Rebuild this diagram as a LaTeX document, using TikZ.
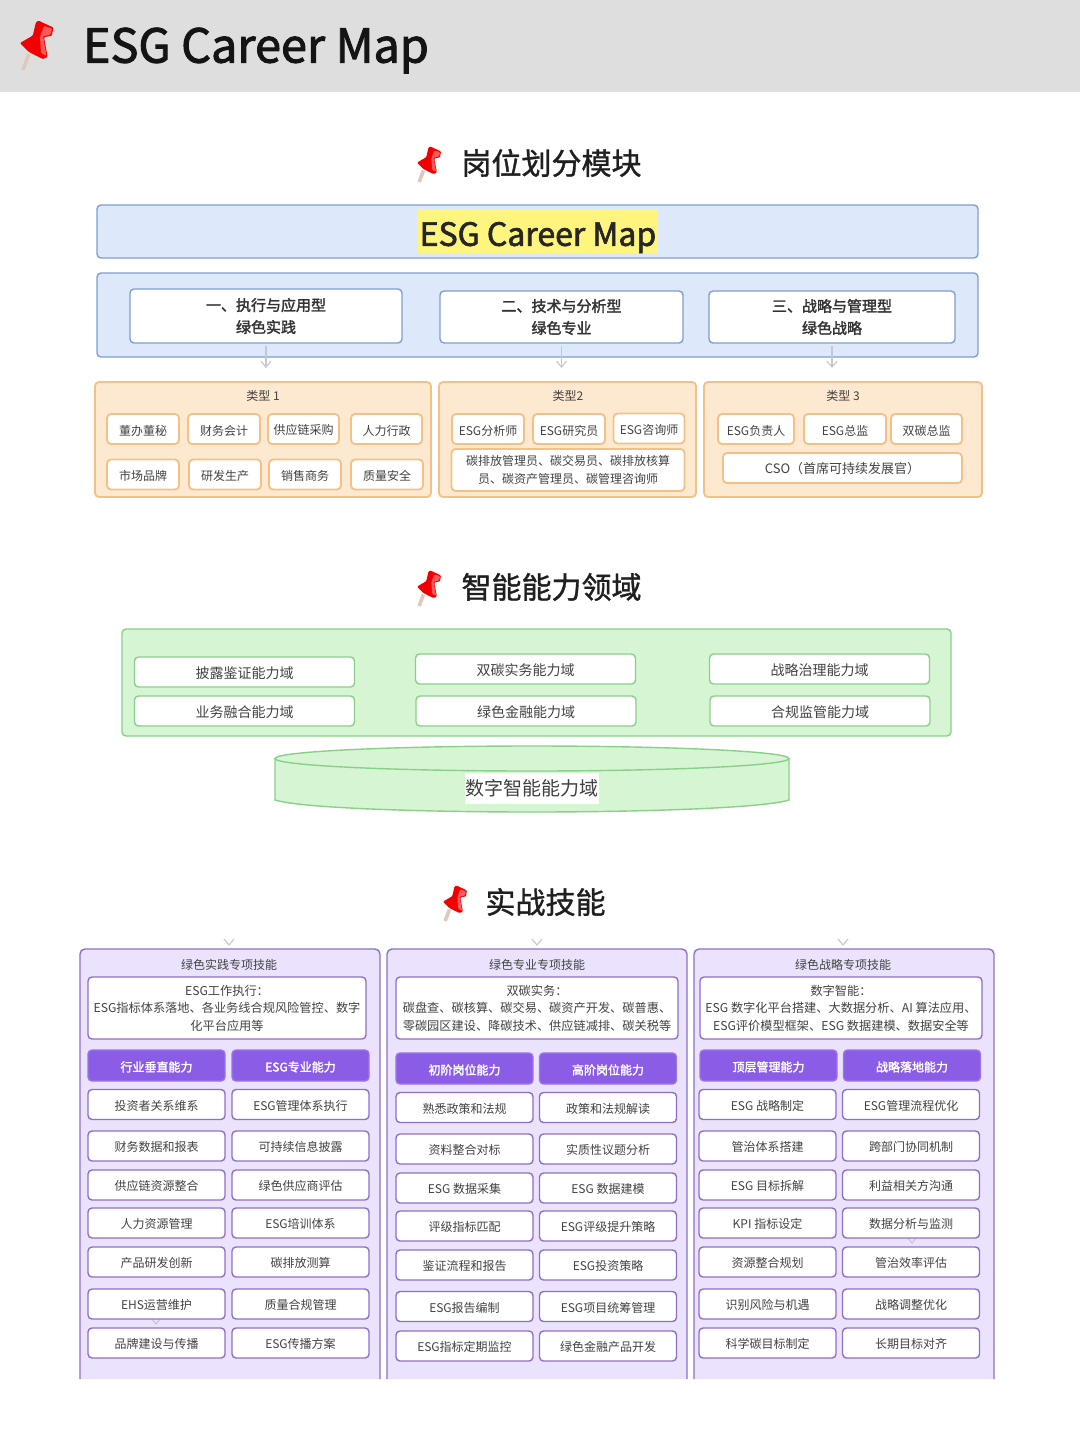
\documentclass[tikz,border=0pt]{standalone}
\usepackage{fontspec}
\setmainfont{Noto Sans CJK SC}
\newfontfamily\medfont[FakeBold=1.2]{Noto Sans CJK SC}
\newfontfamily\semifont[FakeBold=2]{Noto Sans CJK SC}
\usetikzlibrary{arrows.meta}

\definecolor{bandgray}{HTML}{DEDEDE}
\definecolor{inkgray}{HTML}{424242}
\definecolor{flowgray}{HTML}{C4C8CC}
\definecolor{blueline}{HTML}{7F9ED2}
\definecolor{bluefill}{HTML}{DEE8FB}
\definecolor{markyellow}{HTML}{FFF47E}
\definecolor{orangeline}{HTML}{F3C186}
\definecolor{orangefill}{HTML}{FDE8D0}
\definecolor{greenline}{HTML}{8AD08A}
\definecolor{greenfill}{HTML}{D6F5D2}
\definecolor{purpleline}{HTML}{8F6FC6}
\definecolor{purplefill}{HTML}{EBE3FD}
\definecolor{purplehead}{HTML}{8B5CE6}

\tikzset{
  px/.style = {inner sep = 0pt, outer sep = 0pt, align = center},
  dropped/.style = {execute at begin node = {\rule{0pt}{#1}}},
  box/.style = {px, draw, rounded corners = 4pt, line width = 1.4pt},
  heading/.style = {px, text = black!88, font = \medfont\fontsize{30}{30}\selectfont},
  tag/.style = {px, text = inkgray, font = \fontsize{12}{17.5}\selectfont},
  kind/.style = {box, draw = blueline, fill = white, text = black!80, dropped = 19pt,
    minimum height = 53pt, font = \semifont\fontsize{15}{22}\selectfont},
  role/.style = {box, draw = orangeline, fill = white, text = inkgray, dropped = 13pt,
    line width = 1.8pt, minimum height = 30pt, font = \fontsize{12}{18}\selectfont},
  field/.style = {box, draw = greenline, fill = white, text = inkgray, dropped = 15pt,
    minimum width = 220pt, minimum height = 30pt, font = \fontsize{14}{14}\selectfont},
  brief/.style = {box, draw = purpleline, fill = white, text = inkgray, dropped = 13pt,
    minimum width = 280pt, minimum height = 62pt, font = \fontsize{12.2}{17.5}\selectfont},
  head/.style = {box, draw = purplehead!85, fill = purplehead, text = white, dropped = 13pt,
    minimum width = 137pt, minimum height = 31pt, font = \semifont\fontsize{12}{12}\selectfont},
  skill/.style = {box, draw = purpleline, fill = white, text = inkgray, dropped = 12.5pt,
    minimum width = 137pt, minimum height = 30pt, font = \fontsize{12}{12}\selectfont},
  flow/.style = {draw = flowgray, line width = 1.1pt, -{Straight Barb[length = 6pt, width = 10pt]}},
  chevron/.style = {draw = flowgray, line width = 1.1pt},
  pics/pushpin/.style = {code = {
    \draw[line width = 3.6pt, draw = brown!30!white!85!gray] (9,34) -- (3,50);
    \fill[red!95!black, rounded corners = 1pt] (18.6,0.7) -- (33.4,7.6) -- (31.7,16) -- (24,17)
      -- (27.6,36.9) -- (23,39) -- (9,32) -- (0,23) -- (12.8,15.6) -- (16,2) -- cycle;
    \fill[red!65!white, rounded corners = 1pt] (24,6) -- (32,8.5) -- (30.5,15) -- (23,16)
      -- (26.5,36) -- (21,33) -- (20,17) -- cycle;
  }}
}

\begin{document}
\begin{tikzpicture}[x=1pt,y=-1pt]
  \useasboundingbox (0,0) rectangle (1080,1440);
  \fill[white] (0,0) rectangle (1080,1440);

  % top band
  \fill[bandgray] (0,0) rectangle (1080,92);
  \pic at (20,20) {pushpin};
  \node[px, anchor = west, text = black!92, font = \semifont\fontsize{46.8}{47}\selectfont] (bandtitle) at (83,50.5) {ESG Career Map};

  % first part
  \pic[scale = 0.72] at (417,146) {pushpin};
  \node[heading] (partA) at (551.5,163) {岗位划分模块};

  \node[box, draw = blueline, fill = bluefill, minimum width = 881pt, minimum height = 53pt] (mapbar) at (537.5,231.5) {};
  \node[px, fill = markyellow, minimum width = 240pt, minimum height = 44pt, text = black!85, dropped = 37pt,
    font = \semifont\fontsize{32}{32}\selectfont] (maptitle) at (538,231) {ESG Career Map};
  \node[box, draw = blueline, fill = bluefill, minimum width = 881pt, minimum height = 84pt] (kindbar) at (537.5,315) {};

  \node[kind, minimum width = 272pt, minimum height = 54pt] (exec) at (266,316) {一、执行与应用型\\绿色实践};
  \node[kind, minimum width = 243pt, minimum height = 52pt] (tech) at (561.5,317) {二、技术与分析型\\绿色专业};
  \node[kind, minimum width = 246pt, minimum height = 52pt] (strat) at (832,317) {三、战略与管理型\\绿色战略};

  \node[box, draw = orangeline, fill = orangefill, line width = 1.8pt, minimum width = 336pt, minimum height = 115pt] (typeA) at (263,439.5) {};
  \node[box, draw = orangeline, fill = orangefill, line width = 1.8pt, minimum width = 257pt, minimum height = 115pt] (typeB) at (567.5,439.5) {};
  \node[box, draw = orangeline, fill = orangefill, line width = 1.8pt, minimum width = 278pt, minimum height = 115pt] (typeC) at (843,439.5) {};

  \draw[flow, shorten < = 3pt, shorten > = 14pt] (exec.south) -- (exec.south |- typeA.north);
  \draw[flow, shorten < = 3pt, shorten > = 14pt] (tech.south) -- (tech.south |- typeB.north);
  \draw[flow, shorten < = 3pt, shorten > = 14pt] (strat.south) -- (strat.south |- typeC.north);

  \node[tag] (typeAtag) at (263,396) {类型 1};
  \node[tag] (typeBtag) at (568,396) {类型2};
  \node[tag] (typeCtag) at (843,396) {类型 3};

  \node[role, minimum width = 72pt] (board) at (143,429) {董办董秘};
  \node[role, minimum width = 72pt] (finance) at (224,429) {财务会计};
  \node[role, minimum width = 71pt] (supply) at (303.5,429) {供应链采购};
  \node[role, minimum width = 71pt] (people) at (386.5,429) {人力行政};
  \node[role, minimum width = 72pt] (brand) at (143,474.5) {市场品牌};
  \node[role, minimum width = 72pt] (making) at (225,474.5) {研发生产};
  \node[role, minimum width = 72pt] (sales) at (305,474.5) {销售商务};
  \node[role, minimum width = 72pt] (quality) at (387,474.5) {质量安全};

  \node[role, minimum width = 72pt, dropped = 10pt] (analyst) at (488,429) {ESG分析师};
  \node[role, minimum width = 72pt, dropped = 10pt] (research) at (569,429) {ESG研究员};
  \node[role, minimum width = 71pt, dropped = 10pt] (advisor) at (649,428.5) {ESG咨询师};
  \node[role, minimum width = 233pt, minimum height = 42pt, dropped = 17pt] (carbonjobs) at (568,470) {碳排放管理员、碳交易员、碳排放核算\\员、碳资产管理员、碳管理咨询师};

  \node[role, minimum width = 76pt] (lead) at (756,429) {ESG负责人};
  \node[role, minimum width = 82pt] (chief) at (845,429) {ESG总监};
  \node[role, minimum width = 71pt] (dual) at (926.5,429) {双碳总监};
  \node[role, minimum width = 239pt, font = \fontsize{13}{13}\selectfont] (cso) at (842.5,468) {CSO（首席可持续发展官）};

  % second part
  \pic[scale = 0.72] at (417,570) {pushpin};
  \node[heading] (partB) at (551.5,587) {智能能力领域};

  \node[box, draw = greenline, fill = greenfill, minimum width = 829pt, minimum height = 107pt] (fieldbar) at (536.5,682.5) {};
  \node[field] (disclose) at (244.5,672) {披露鉴证能力域};
  \node[field] (business) at (244.5,711) {业务融合能力域};
  \node[field] (dualfield) at (525.5,669) {双碳实务能力域};
  \node[field] (finfield) at (526,711) {绿色金融能力域};
  \node[field] (govern) at (819.5,669) {战略治理能力域};
  \node[field] (comply) at (820,711) {合规监管能力域};

  \draw[draw = greenline, fill = greenfill, line width = 1.4pt] (275,758) -- (275,800)
    .. controls (300,808) and (420,812) .. (532,812)
    .. controls (644,812) and (764,808) .. (789,800) -- (789,758);
  \draw[draw = greenline, fill = greenfill, line width = 1.4pt] (532,758.5) ellipse (257pt and 12.5pt);
  \node[px, fill = white, text = black!75, minimum width = 134pt, minimum height = 31pt,
    font = \fontsize{19}{19}\selectfont] (digital) at (532,788) {数字智能能力域};

  % third part
  \pic[scale = 0.72] at (443,885) {pushpin};
  \node[heading] (partC) at (545.5,902) {实战技能};

  \foreach \x in {80,387,694} {
    \draw[draw = purpleline, fill = purplefill, line width = 1.4pt, rounded corners = 5pt]
      (\x,1379) -- (\x,949) -- (\x+300,949) -- (\x+300,1379);
  }
  \fill[white] (70,1379.5) rectangle (1004,1390);

  \foreach \x/\y in {229/939,537/939,843/939,156/1318,912/1237} {
    \draw[chevron] (\x-5,\y) -- (\x,\y+6) -- (\x+5,\y);
  }

  % green practice
  \node[tag] (practice) at (229,964.5) {绿色实践专项技能};
  \node[brief, minimum width = 278pt] (practicebrief) at (227,1008) {ESG工作执行：\\ESG指标体系落地、各业务线合规风险管控、数字\\化平台应用等};
  \node[head] (practicel) at (156.5,1065.5) {行业垂直能力};
  \node[head] (practicer) at (300.5,1065.5) {ESG专业能力};
  \foreach \n/\y/\a/\b in {
    1/1104.5/投资者关系维系/ESG管理体系执行,
    2/1146/财务数据和报表/可持续信息披露,
    3/1185/供应链资源整合/绿色供应商评估,
    4/1223/人力资源管理/ESG培训体系,
    5/1262/产品研发创新/碳排放测算,
    6/1304/EHS运营维护/质量合规管理,
    7/1343/品牌建设与传播/ESG传播方案} {
    \node[skill] (practice\n l) at (156.5,\y) {\a};
    \node[skill] (practice\n r) at (300.5,\y) {\b};
  }

  % green specialism
  \node[tag] (special) at (537,964.5) {绿色专业专项技能};
  \node[brief, minimum width = 282pt] (specialbrief) at (537,1008) {双碳实务：\\碳盘查、碳核算、碳交易、碳资产开发、碳普惠、\\零碳园区建设、降碳技术、供应链减排、碳关税等};
  \node[head] (speciall) at (464.5,1068.5) {初阶岗位能力};
  \node[head] (specialr) at (608,1068.5) {高阶岗位能力};
  \foreach \n/\y/\a/\b in {
    1/1107.5/熟悉政策和法规/政策和法规解读,
    2/1149/资料整合对标/实质性议题分析,
    3/1188/ESG 数据采集/ESG 数据建模,
    4/1226/评级指标匹配/ESG评级提升策略,
    5/1265/鉴证流程和报告/ESG投资策略,
    6/1306.5/ESG报告编制/ESG项目统筹管理,
    7/1346/ESG指标定期监控/绿色金融产品开发} {
    \node[skill] (special\n l) at (464.5,\y) {\a};
    \node[skill] (special\n r) at (608,\y) {\b};
  }

  % green strategy
  \node[tag] (strategy) at (843,964.5) {绿色战略专项技能};
  \node[brief, minimum width = 282pt] (strategybrief) at (841,1008) {数字智能：\\ESG 数字化平台搭建、大数据分析、AI 算法应用、\\ESG评价模型框架、ESG 数据建模、数据安全等};
  \node[head] (strategyl) at (768.5,1065.5) {顶层管理能力};
  \node[head] (strategyr) at (912,1065.5) {战略落地能力};
  \foreach \n/\y/\a/\b in {
    1/1104.5/ESG 战略制定/ESG管理流程优化,
    2/1146/管治体系搭建/跨部门协同机制,
    3/1185/ESG 目标拆解/利益相关方沟通,
    4/1223/KPI 指标设定/数据分析与监测,
    5/1262/资源整合规划/管治效率评估,
    6/1304/识别风险与机遇/战略调整优化,
    7/1343/科学碳目标制定/长期目标对齐} {
    \node[skill] (strategy\n l) at (767.5,\y) {\a};
    \node[skill] (strategy\n r) at (911,\y) {\b};
  }
\end{tikzpicture}
\end{document}
